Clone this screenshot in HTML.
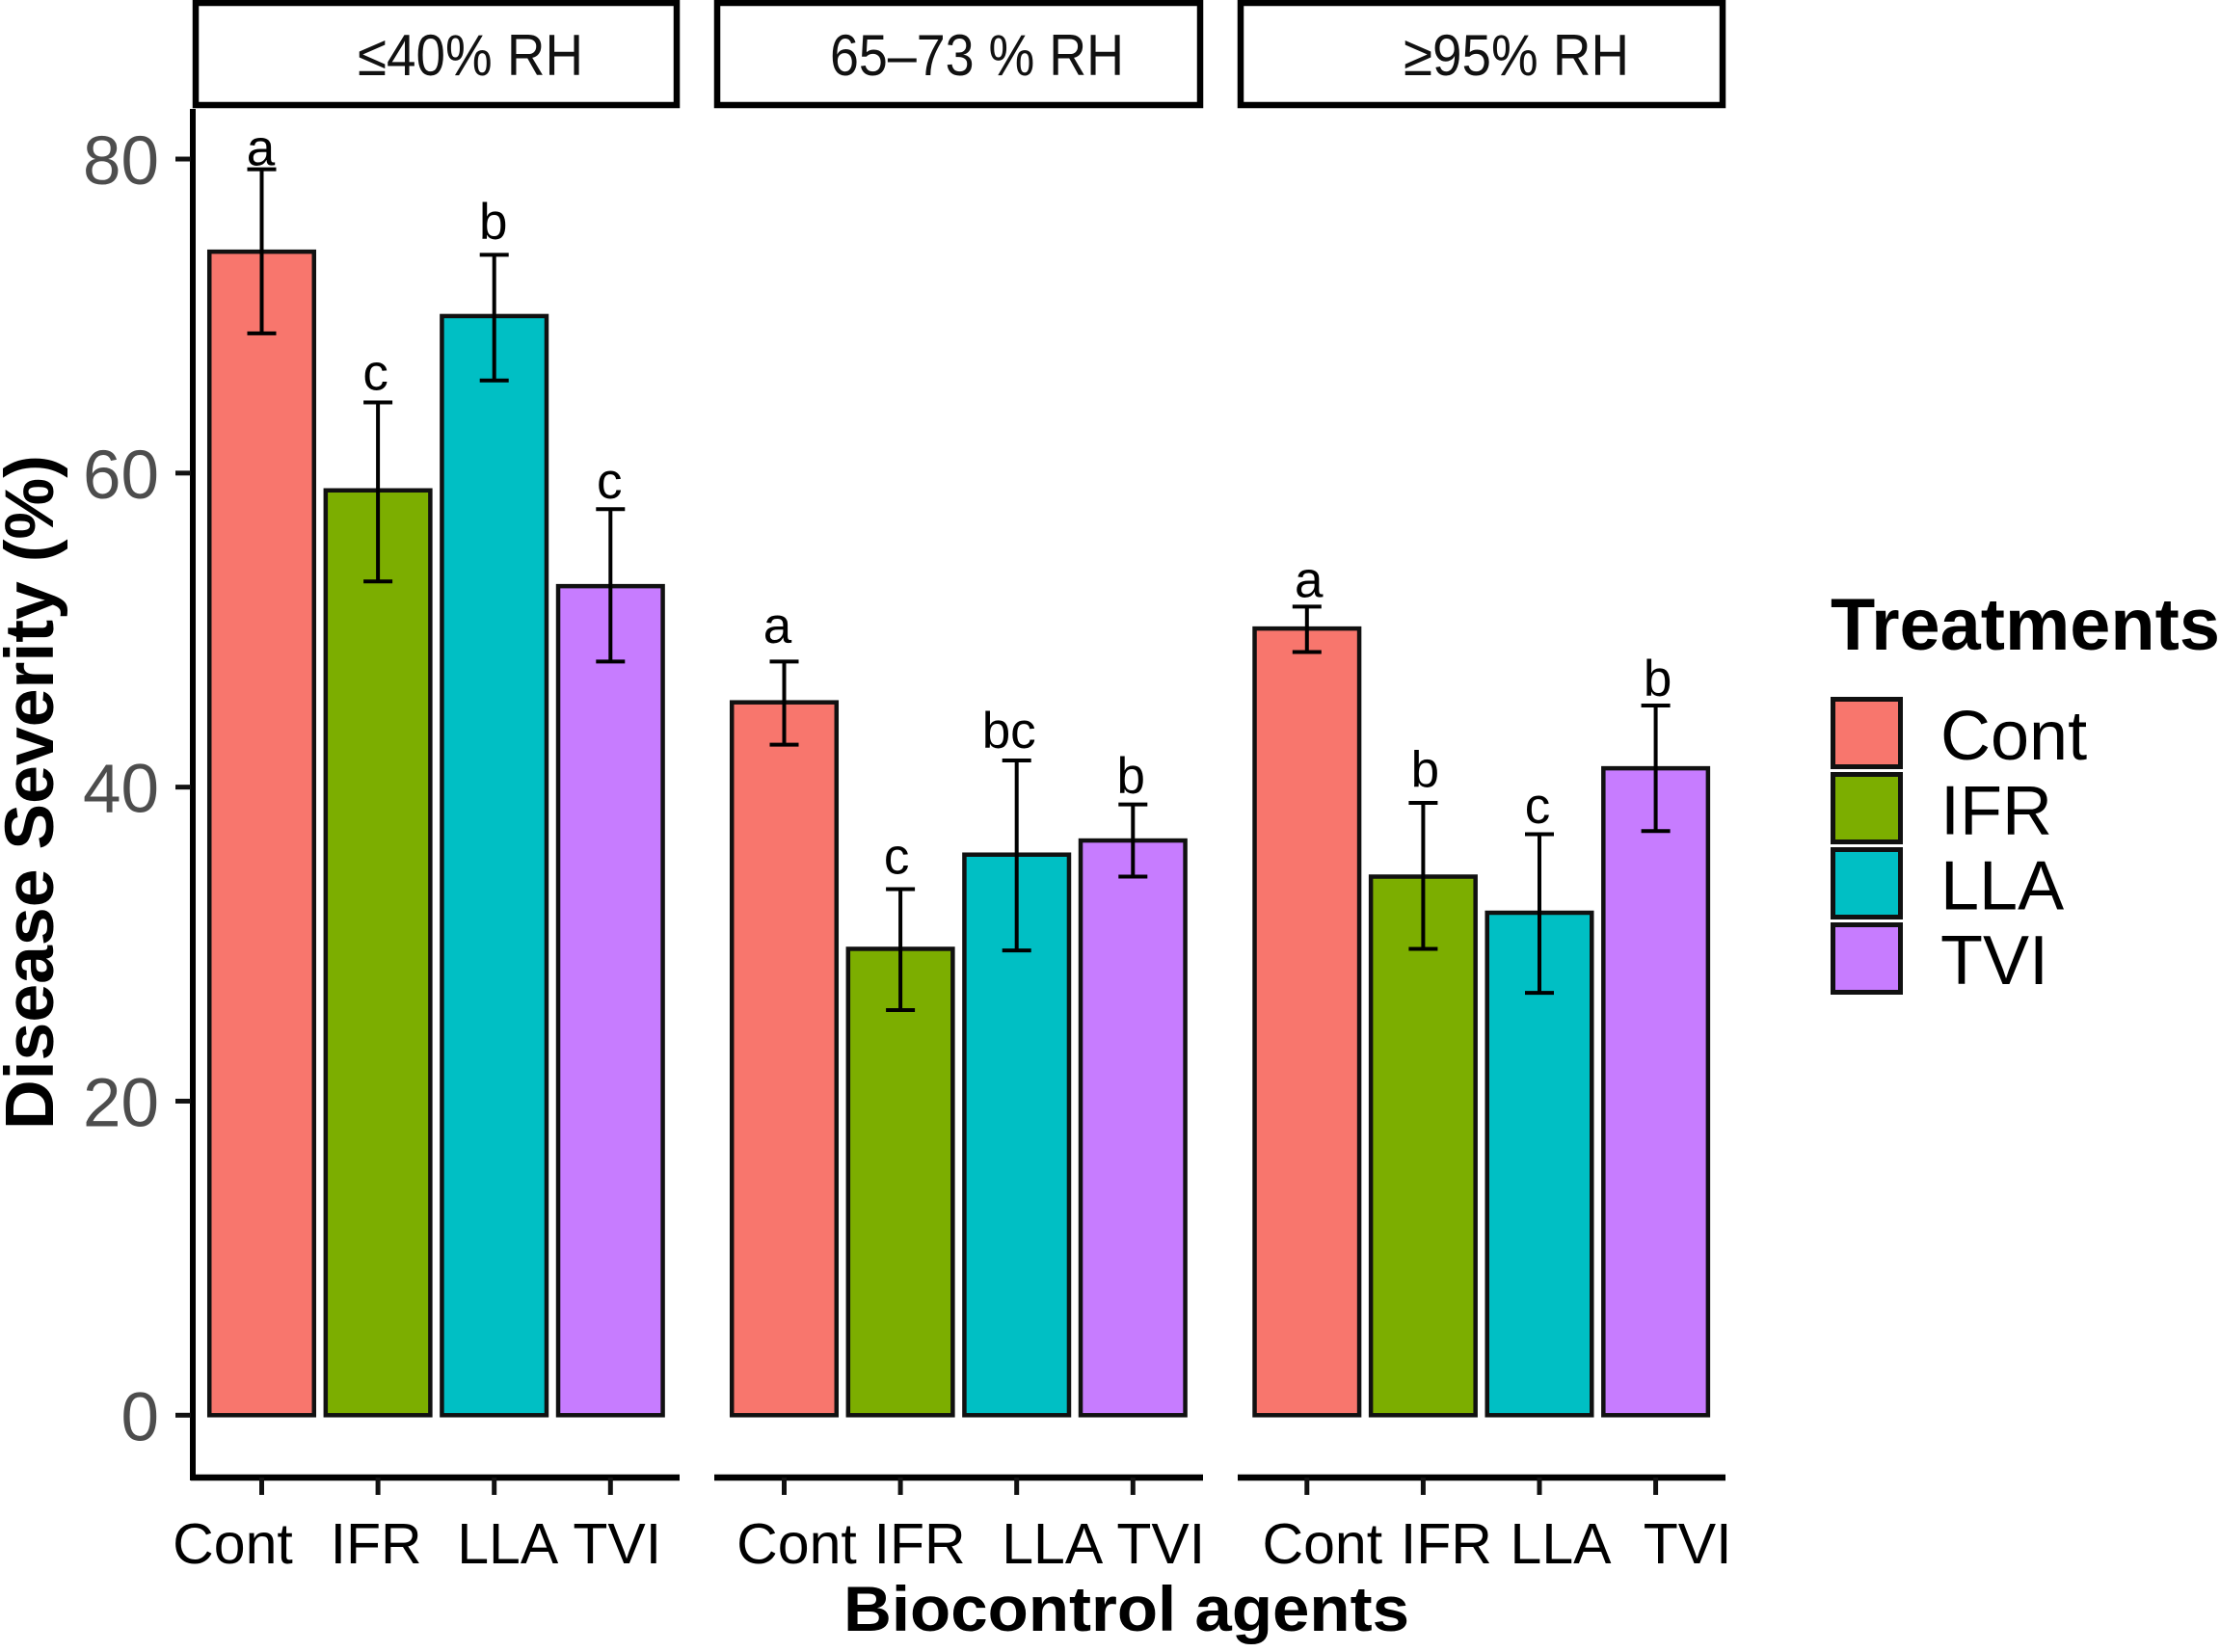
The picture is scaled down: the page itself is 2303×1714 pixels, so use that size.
<!DOCTYPE html>
<html lang="en">
<head>
<meta charset="utf-8">
<title>Disease severity by biocontrol agent and relative humidity</title>
<style>
html,body{margin:0;padding:0;background:#fff;width:2303px;height:1714px;overflow:hidden}
svg{display:block;font-family:"Liberation Sans",Arial,sans-serif}
</style>
</head>
<body>
<svg id="chart" xmlns="http://www.w3.org/2000/svg" width="2303" height="1714" viewBox="0 0 2303 1714">
  <rect x="0" y="0" width="2303" height="1714" fill="#fff"/>
  <text transform="translate(55,1172) rotate(-90)" font-size="71" font-weight="700" fill="#000" textLength="700" lengthAdjust="spacingAndGlyphs">Disease Severity (%)</text>
  <text x="875" y="1692" font-size="66" font-weight="700" fill="#000" textLength="587" lengthAdjust="spacingAndGlyphs">Biocontrol agents</text>
  <text x="1899" y="674" font-size="76" font-weight="700" fill="#000" textLength="404" lengthAdjust="spacingAndGlyphs">Treatments</text>
</svg>
<script>
const categories = ['Cont', 'IFR', 'LLA', 'TVI'];
const panelLabels = ['≤40% RH', '65–73 % RH', '≥95% RH'];
const yTickValues = [0, 20, 40, 60, 80];

const meansDry = [74.1, 58.9, 70.0, 52.8];
const upperDry = [79.35, 64.5, 73.9, 57.7];
const lowerDry = [68.9, 53.1, 65.9, 48.0];
const lettersDry = ['a', 'c', 'b', 'c'];
const letterHeightsDry = [79.6, 65.3, 74.9, 58.4];

const meansMid = [45.4, 29.7, 35.7, 36.6];
const upperMid = [48.0, 33.5, 41.7, 38.9];
const lowerMid = [42.7, 25.8, 29.6, 34.3];
const lettersMid = ['a', 'c', 'bc', 'b'];
const letterHeightsMid = [49.2, 34.5, 42.5, 39.6];

const meansWet = [50.1, 34.3, 32.0, 41.2];
const upperWet = [51.5, 39.0, 37.0, 45.2];
const lowerWet = [48.6, 29.7, 26.9, 37.2];
const lettersWet = ['a', 'b', 'c', 'b'];
const letterHeightsWet = [52.1, 40.0, 37.7, 45.8];

const meansByPanel = [meansDry, meansMid, meansWet];
const upperByPanel = [upperDry, upperMid, upperWet];
const lowerByPanel = [lowerDry, lowerMid, lowerWet];
const lettersByPanel = [lettersDry, lettersMid, lettersWet];
const letterHeightsByPanel = [letterHeightsDry, letterHeightsMid, letterHeightsWet];

const colors = ['#F8766D', '#7CAE00', '#00BFC4', '#C77CFF'];
const colorClasses = ['cont', 'ifr', 'lla', 'tvi'];

/* layout */
const svg = document.getElementById('chart');
const NS = 'http://www.w3.org/2000/svg';
const panelStart = [271.5, 813.5, 1355.8];
const bandStep = 120.6;
const axisRanges = [[198, 705], [741, 1248], [1284, 1790]];
const stripRanges = [[203, 702], [744, 1245], [1287, 1787]];
const stripTextRanges = [[371, 234], [861, 305], [1456, 234]];
const tickLabelShift = [[-30, -2, 14, 7], [13, 20, 37, 29], [16, 24, 22, 33]];
const letterShift = [[-1, -2.5, -1, -1], [-7, -4, -8, -2], [2, 2, -2, 2]];
const AXIS_BOTTOM = 1533;

function yScale(v) { return 1468.3 - v * 16.291; }
function xScale(panel, i) { return panelStart[panel] + i * bandStep; }
function make(tag, props, text) {
  const el = document.createElementNS(NS, tag);
  for (const k in props) el.setAttribute(k, props[k]);
  if (text !== undefined) el.textContent = text;
  svg.appendChild(el);
  return el;
}

/* y axis line */
const yAxisLine = make('line', { x1: 200, x2: 200, y1: 113, y2: 1536, stroke: '#000', 'stroke-width': 6 });



/* y ticks */
yTickValues.forEach(function (v) {
  const tick = make('line', { x1: 182, x2: 198, y1: yScale(v), y2: yScale(v), stroke: '#111', 'stroke-width': 5 });
  
  
  const label = make('text', { x: 165, y: yScale(v) + 26, 'text-anchor': 'end', 'font-size': 71, fill: '#4d4d4d' }, String(v));
  
  
});

panelLabels.forEach(function (panelLabel, p) {
  /* facet strip */
  const strip = make('rect', { x: stripRanges[p][0], y: 3, width: stripRanges[p][1] - stripRanges[p][0], height: 106, fill: '#fff', stroke: '#000', 'stroke-width': 6.5 });
  
  
  const stripText = make('text', { x: stripTextRanges[p][0], y: 78, 'font-size': 60, fill: '#111', textLength: stripTextRanges[p][1], lengthAdjust: 'spacingAndGlyphs' }, panelLabel);
  
  

  /* x axis line */
  const xAxis = make('line', { x1: axisRanges[p][0], x2: axisRanges[p][1], y1: AXIS_BOTTOM, y2: AXIS_BOTTOM, stroke: '#000', 'stroke-width': 6.5 });
  
  

  categories.forEach(function (category, i) {
    const cx = xScale(p, i);
    const barW = bandStep * 0.9;
    const mean = meansByPanel[p][i];

    /* bar */
    const bar = make('rect', { x: cx - barW / 2, y: yScale(mean), width: barW, height: yScale(0) - yScale(mean), fill: colors[i], stroke: '#111', 'stroke-width': 4.5 });
    
    

    /* error bar */
    const yUp = yScale(upperByPanel[p][i]);
    const yLow = yScale(lowerByPanel[p][i]);
    const stem = make('line', { x1: cx, x2: cx, y1: yUp, y2: yLow, stroke: '#000', 'stroke-width': 4 });
    
    
    const capTop = make('line', { x1: cx - 15, x2: cx + 15, y1: yUp, y2: yUp, stroke: '#000', 'stroke-width': 4 });
    
    
    const capLow = make('line', { x1: cx - 15, x2: cx + 15, y1: yLow, y2: yLow, stroke: '#000', 'stroke-width': 4 });
    
    

    /* significance letter */
    const letter = make('text', { x: cx + letterShift[p][i], y: yScale(letterHeightsByPanel[p][i]), 'text-anchor': 'middle', 'font-size': 53, fill: '#000' }, lettersByPanel[p][i]);
    
    

    /* x tick */
    const xTick = make('line', { x1: cx, x2: cx, y1: AXIS_BOTTOM, y2: 1551, stroke: '#111', 'stroke-width': 5 });
    
    

    /* x tick label */
    const xLabel = make('text', { x: cx + tickLabelShift[p][i], y: 1622, 'text-anchor': 'middle', 'font-size': 59, fill: '#000' }, category);
    
    
  });
});

/* legend */
categories.forEach(function (category, i) {
  const key = make('rect', { x: 1901.5, y: 725.5 + i * 78, width: 70, height: 70, fill: colors[i], stroke: '#111', 'stroke-width': 5 });
  
  
  const legendLabel = make('text', { x: 2013, y: 788 + i * 77.7, 'font-size': 72, fill: '#000' }, category);
  
  
});
</script>
</body>
</html>
